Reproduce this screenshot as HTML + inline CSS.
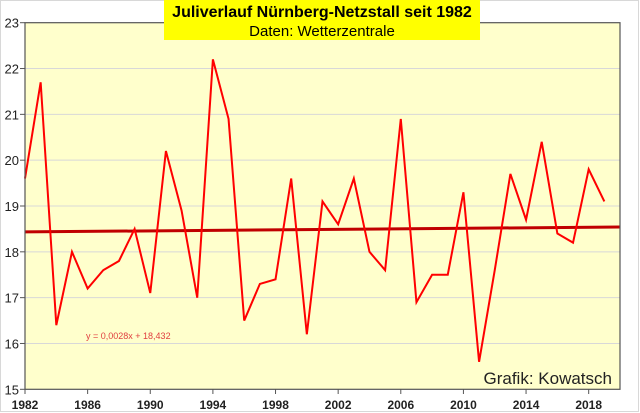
<!DOCTYPE html>
<html><head><meta charset="utf-8"><style>
body{margin:0;background:#fff;}
svg{display:block;font-family:"Liberation Sans",Arial,sans-serif;}
</style></head><body>
<svg id="c" width="640" height="413">
<rect x="0.5" y="0.5" width="638" height="411" fill="#fff" stroke="#d8d8d8"/>
<rect x="25" y="22.7" width="595" height="366.6" fill="#ffffcc"/>
<g id="grid"></g>
<g id="axes"></g>
<g id="series"></g>
<rect x="25" y="22.7" width="595" height="366.6" fill="none" stroke="#555" stroke-width="1.2"/>
<rect x="164" y="0" width="316" height="40" fill="#ffff00"/>
<text x="322" y="17" text-anchor="middle" font-size="16" font-weight="bold">Juliverlauf Nürnberg-Netzstall  seit 1982</text>
<text x="322" y="36" text-anchor="middle" font-size="15">Daten: Wetterzentrale</text>
<text x="86" y="339" font-size="9" fill="#e04040">y = 0,0028x + 18,432</text>
<text x="612" y="384" text-anchor="end" font-size="17" fill="#222">Grafik: Kowatsch</text>
</svg>
<script>
const years=[1982,1983,1984,1985,1986,1987,1988,1989,1990,1991,1992,1993,1994,1995,1996,1997,1998,1999,2000,2001,2002,2003,2004,2005,2006,2007,2008,2009,2010,2011,2012,2013,2014,2015,2016,2017,2018,2019];
const temps=[19.6,21.7,16.4,18.0,17.2,17.6,17.8,18.5,17.1,20.2,18.9,17.0,22.2,20.9,16.5,17.3,17.4,19.6,16.2,19.1,18.6,19.6,18.0,17.6,20.9,16.9,17.5,17.5,19.3,15.6,17.6,19.7,18.7,20.4,18.4,18.2,19.8,19.1];
const trendSlope=[0.0028];
const trendIntercept=[18.432];
const yTicks=[15,16,17,18,19,20,21,22,23];
const xTicks=[1982,1986,1990,1994,1998,2002,2006,2010,2014,2018];
const NS="http://www.w3.org/2000/svg";
const X=v=>25+(v-1982)*(595/38);
const Y=v=>389.3-(v-15)*(366.6/8);
function mk(t,a,p){const e=document.createElementNS(NS,t);for(const k in a)e.setAttribute(k,a[k]);p.appendChild(e);return e;}
const grid=document.getElementById('grid'),axes=document.getElementById('axes'),ser=document.getElementById('series');
yTicks.forEach(v=>{
 if(v>15&&v<23){const g=mk('line',{x1:25,x2:620,y1:Y(v),y2:Y(v),stroke:'#d8d8d8','stroke-width':1},grid);
 
 }
 const t=mk('line',{x1:20,x2:25,y1:Y(v),y2:Y(v),stroke:'#555'},axes);
 
 
 const l=mk('text',{x:19,y:Y(v)+5,'text-anchor':'end','font-size':13,fill:'#222'},axes);l.textContent=v;
 
 
});
xTicks.forEach(v=>{
 const t=mk('line',{x1:X(v),x2:X(v),y1:389,y2:394,stroke:'#555'},axes);
 
 
 const l=mk('text',{x:X(v),y:409,'text-anchor':'middle','font-size':12,'font-weight':'bold',fill:'#222'},axes);l.textContent=v;
 
 
});
const tr=mk('line',{x1:X(1982),x2:X(2020),y1:Y(trendIntercept[0]+trendSlope[0]*1),y2:Y(trendIntercept[0]+trendSlope[0]*39),stroke:'#c00000','stroke-width':3},ser);


const pl=mk('polyline',{points:years.map((y,i)=>X(y)+','+Y(temps[i])).join(' '),fill:'none',stroke:'#ff0000','stroke-width':2,'stroke-linejoin':'miter'},ser);


</script>
</body></html>
